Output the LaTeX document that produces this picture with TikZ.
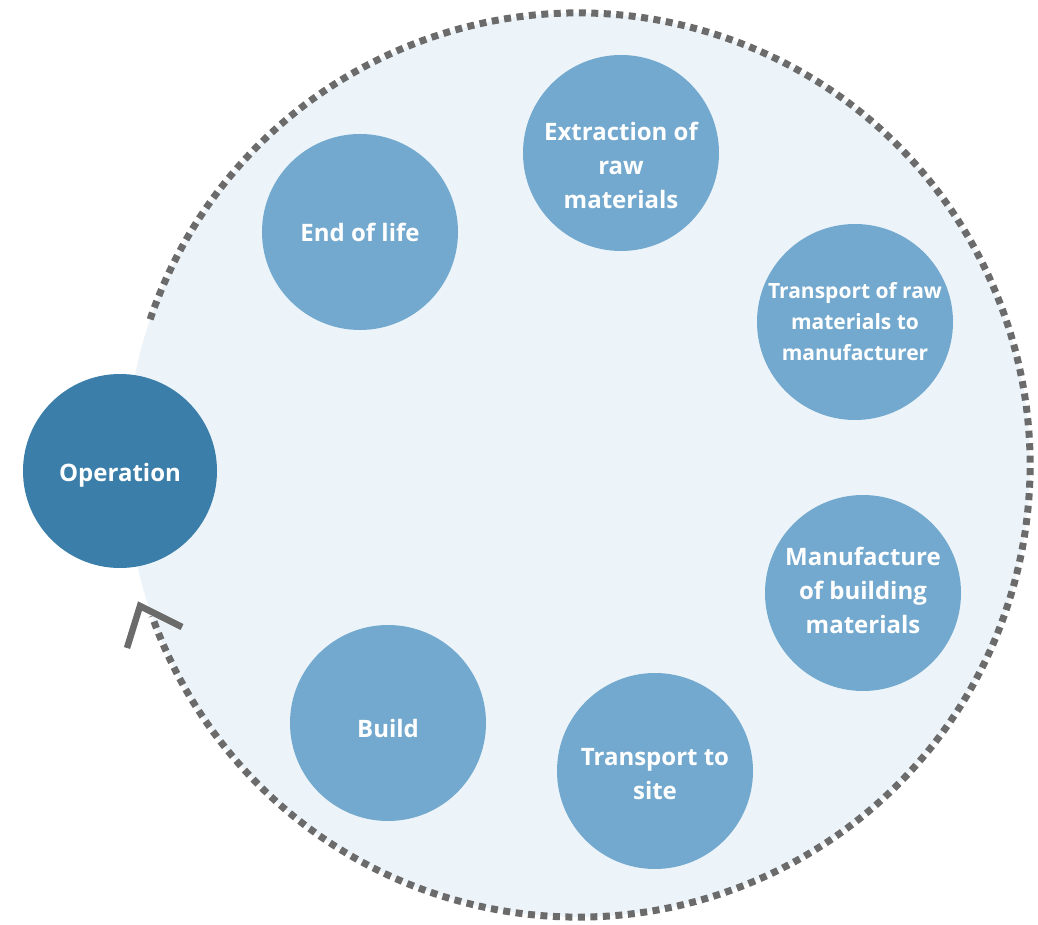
\documentclass[tikz,border=0pt]{standalone}
\usepackage{fontspec}
\setmainfont{Open Sans}
\definecolor{ringfill}{HTML}{EDF4F9}
\definecolor{stepblue}{HTML}{73A9CE}
\definecolor{opblue}{HTML}{3A7EA9}
\definecolor{dotgray}{HTML}{6B6B6B}
\begin{document}
\begin{tikzpicture}[x=1pt,y=1pt,
  stage/.style={circle,fill=stepblue,minimum size=196pt,inner sep=0pt,text=white,
    align=center,font=\bfseries\fontsize{24}{34}\selectfont},
  smallstage/.style={stage,font=\bfseries\fontsize{21}{31}\selectfont},
  opstage/.style={stage,fill=opblue,minimum size=194pt},
  lbl/.style={font=\bfseries\fontsize{24}{34}\selectfont,text=white,align=center},
  ring/.style={draw=dotgray,line width=7pt,dash pattern=on 7pt off 5.5pt},
  chev/.style={draw=dotgray,line width=6.5pt,miter limit=10}]
\useasboundingbox (0,0) rectangle (1038,924);
\coordinate (C) at (578,459);
\fill[ringfill] (C) circle (452);
\draw[ring] ([shift={(161.2:452pt)}]C) arc[start angle=161.2,end angle=-160.5,radius=452pt];
\coordinate (a1) at (127,276);
\coordinate (a2) at (140,318);
\coordinate (a3) at (182,297);
\draw[chev] (a1) -- (a2) -- (a3);
\node[opstage] (op) at (120,453) {};
\node[lbl] at ([yshift=-4pt]op.center) {Operation};
\node[stage] (ext) at (621,771) {};
\node[lbl] at ([yshift=-12pt]ext.center) {Extraction of\\raw\\materials};
\node[stage] (eol) at (360,692) {End of life};
\node[smallstage] (trm) at (855,602) {Transport of raw\\materials to\\manufacturer};
\node[stage] (man) at (863,331) {};
\node[lbl] at ([yshift=3pt]man.center) {Manufacture\\of building\\materials};
\node[stage] (tsite) at (655,153) {};
\node[lbl] at ([yshift=-3pt]tsite.center) {Transport to\\site};
\node[stage] (build) at (388,201) {};
\node[lbl] at ([yshift=-5pt]build.center) {Build};
\end{tikzpicture}
\end{document}
